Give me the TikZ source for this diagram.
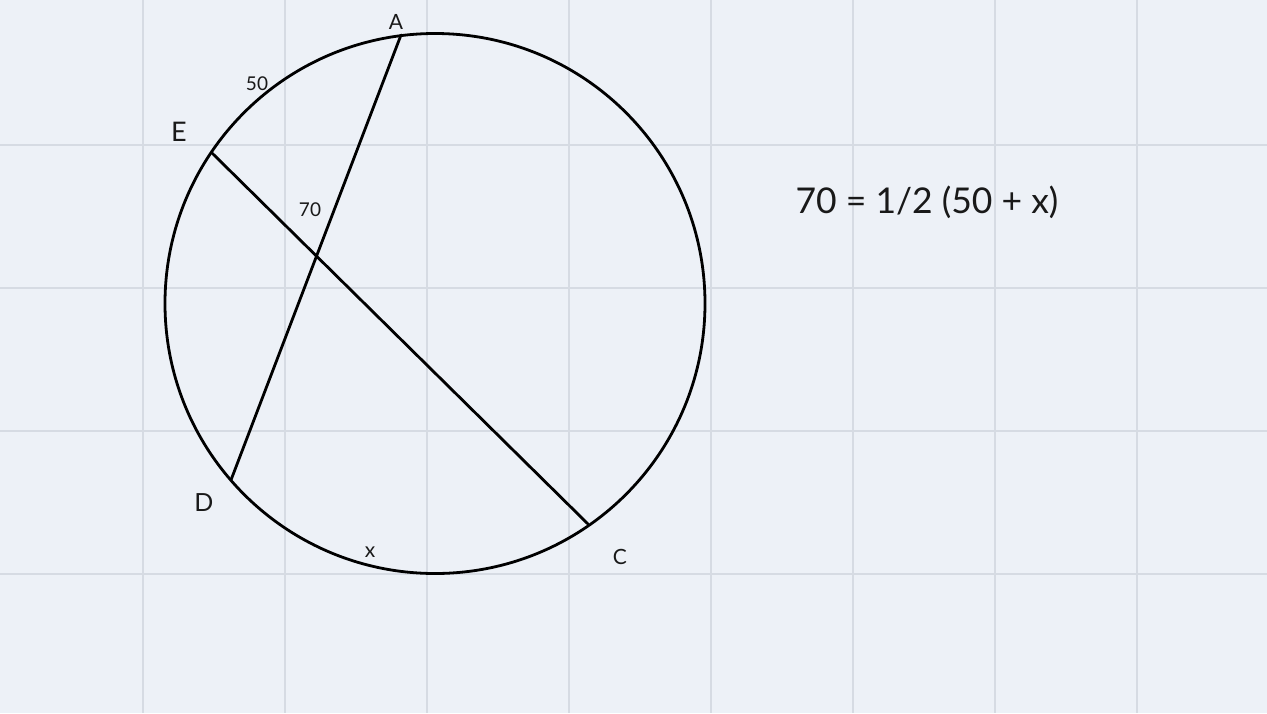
\documentclass[tikz,border=0pt]{standalone}
\usepackage{fontspec}
\setmainfont{Lato}
\definecolor{paper}{HTML}{EDF1F7}
\definecolor{gridline}{HTML}{D6DBE3}
\tikzset{
  lbl/.style={inner sep=0pt, text=black!90},
  chord/.style={line width=2.8pt, line cap=round}
}
\begin{document}
\begin{tikzpicture}[x=1pt,y=-1pt]
  \fill[paper] (0,0) rectangle (1267,713);
  \useasboundingbox (0,0) rectangle (1267,713);
  \foreach \gx in {143,285,427,569,711,853,995,1137}
    \draw[gridline, line width=2pt] (\gx,0) -- (\gx,713);
  \foreach \gy in {145,288,431,574}
    \draw[gridline, line width=2pt] (0,\gy) -- (1267,\gy);
  \coordinate (O) at (435,303.5);
  \draw[line width=2.8pt] (O) circle[radius=270pt];
  \coordinate (a) at (401,35);
  \coordinate (e) at (212,153);
  \coordinate (d) at (231,480);
  \coordinate (c) at (588,524);
  \begin{scope}[chord]
    \draw (a) to (d);
    \draw (e) to (c);
  \end{scope}
  \node[lbl, font=\fontsize{21}{21}\selectfont] (la) at (396,22) {A};
  \node[lbl, font=\fontsize{27}{27}\selectfont] (le) at (179,132) {E};
  \node[lbl, font=\fontsize{25}{25}\selectfont] (ld) at (204,503) {D};
  \node[lbl, font=\fontsize{21}{21}\selectfont] (lc) at (620,557) {C};
  \node[lbl, font=\fontsize{19}{19}\selectfont] (arcAE) at (257,84) {50};
  \node[lbl, font=\fontsize{19}{19}\selectfont] (angle) at (310,210) {70};
  \node[lbl, font=\fontsize{21}{21}\selectfont] (arcDC) at (370,552) {x};
  \node[lbl, font=\fontsize{35.5}{36}\selectfont] (eqn) at (927,202) {70 = 1/2 (50 + x)};
\end{tikzpicture}
\end{document}
